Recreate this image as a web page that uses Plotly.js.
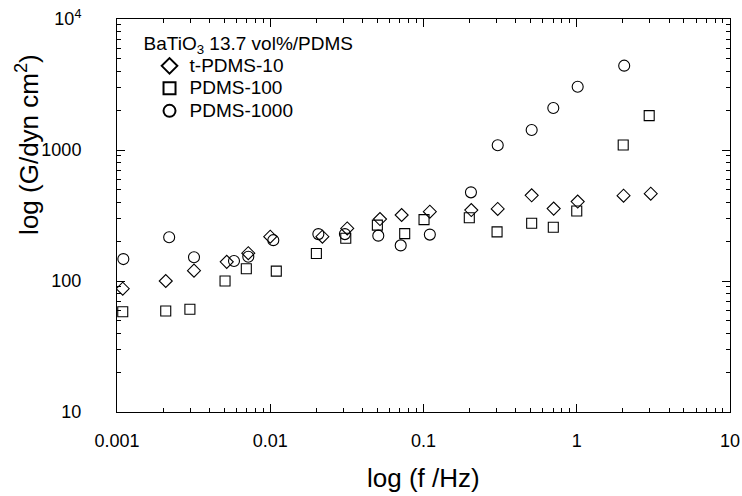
<!DOCTYPE html>
<html>
<head>
<meta charset="utf-8">
<script src="https://cdn.plot.ly/plotly-3.0.1.min.js"></script>
<style>html,body{margin:0;padding:0;background:#fff;}#chart{width:742px;height:496px;}</style>
</head>
<body>
<div id="chart"></div>
<script>
const seriesNames = ["t-PDMS-10", "PDMS-100", "PDMS-1000"];
const legendTitle = "BaTiO<sub>3</sub> 13.7 vol%/PDMS";

const freqTPDMS10 = [0.00109, 0.00208, 0.00318, 0.00520, 0.00719, 0.0100, 0.0219, 0.0318, 0.0520, 0.0720, 0.110, 0.205, 0.305, 0.508, 0.707, 1.014, 2.02, 3.04];
const gTPDMS10    = [87.3, 100, 120, 140, 163, 218, 218, 252, 297, 319, 338, 348, 355, 451, 357, 404, 448, 464];

const freqPDMS100 = [0.00109, 0.00208, 0.00299, 0.00507, 0.00698, 0.01095, 0.0200, 0.0311, 0.0500, 0.0754, 0.1008, 0.199, 0.302, 0.508, 0.703, 1.0, 2.01, 2.97];
const gPDMS100    = [58.3, 59, 60.8, 100, 124, 119, 162, 212, 267, 230, 294, 304, 237, 276, 257, 342, 1091, 1829];

const freqPDMS1000 = [0.0011, 0.00219, 0.00318, 0.00580, 0.00719, 0.01047, 0.0206, 0.0307, 0.0507, 0.0710, 0.110, 0.204, 0.305, 0.508, 0.703, 1.014, 2.04];
const gPDMS1000    = [147, 216, 152, 142, 153, 205, 228, 228, 222, 187, 226, 475, 1086, 1421, 2094, 3041, 4404];

const xTickVals = [0.001, 0.01, 0.1, 1, 10];
const xTickText = ["0.001", "0.01", "0.1", "1", "10"];
const yTickVals = [10, 100, 1000, 10000];
const yTickText = ["10", "100", "1000", "10<sup>4</sup>"];
const minorDigits = [2, 3, 4, 5, 6, 7, 8, 9];

function minorVals(decades) {
  const out = [];
  decades.forEach(d => minorDigits.forEach(m => out.push(m * d)));
  return out;
}

const FONT = "Liberation Sans, Arial, Helvetica, sans-serif";
const mk = (sym, size) => ({symbol: sym, size: size, color: "#000", line: {color: "#000", width: 1.1}});
const big = s => '<span style="font-size:19px">' + s + '</span>';

const traces = [
  {x: freqTPDMS10, y: gTPDMS10, name: big(seriesNames[0]), mode: "markers", type: "scatter", marker: mk("diamond-open", 10)},
  {x: freqPDMS100, y: gPDMS100, name: big(seriesNames[1]), mode: "markers", type: "scatter", marker: mk("square-open", 10)},
  {x: freqPDMS1000, y: gPDMS1000, name: big(seriesNames[2]), mode: "markers", type: "scatter", marker: mk("circle-open", 11)}
];

const axisCommon = {
  type: "log", showgrid: false, zeroline: false,
  showline: true, linecolor: "#000", linewidth: 1, mirror: "ticks",
  ticks: "inside", ticklen: 8, tickwidth: 1, tickcolor: "#000",
  tickfont: {family: FONT, size: 18, color: "#000"}
};

const layout = {
  width: 742, height: 496,
  margin: {l: 117, r: 12, t: 19, b: 84},
  paper_bgcolor: "#fff", plot_bgcolor: "#fff",
  showlegend: true,
  legend: {
    x: 0.04, y: 0.985, xanchor: "left", yanchor: "top",
    bgcolor: "rgba(0,0,0,0)", borderwidth: 0,
    font: {family: FONT, size: 15, color: "#000"},
    title: {text: legendTitle, font: {family: FONT, size: 19, color: "#000"}},
    itemsizing: "constant", tracegroupgap: 0, indentation: 8
  },
  xaxis: Object.assign({}, axisCommon, {
    range: [-3, 1], tickmode: "array", tickvals: xTickVals, ticktext: xTickText, ticklabelstandoff: 12,
    minor: {tickmode: "array", tickvals: minorVals([0.001, 0.01, 0.1, 1]), ticks: "inside", ticklen: 4, tickwidth: 1, tickcolor: "#000", showgrid: false}
  }),
  yaxis: Object.assign({}, axisCommon, {
    range: [1, 4], tickmode: "array", tickvals: yTickVals, ticktext: yTickText, ticklabelstandoff: 31,
    minor: {tickmode: "array", tickvals: minorVals([10, 100, 1000]), ticks: "inside", ticklen: 4, tickwidth: 1, tickcolor: "#000", showgrid: false}
  }),
  annotations: [
    {text: "log (f /Hz)", xref: "paper", yref: "paper", x: 0.5, y: -0.168, xanchor: "center", yanchor: "middle",
     showarrow: false, font: {family: FONT, size: 26, color: "#000"}},
    {text: "log (G/dyn cm<sup>2</sup>)", xref: "paper", yref: "paper", x: -0.145, y: 0.68, xanchor: "center", yanchor: "middle",
     textangle: -90, showarrow: false, font: {family: FONT, size: 26, color: "#000"}}
  ]
};

Plotly.newPlot("chart", traces, layout, {displayModeBar: false, staticPlot: true});
</script>
</body>
</html>
